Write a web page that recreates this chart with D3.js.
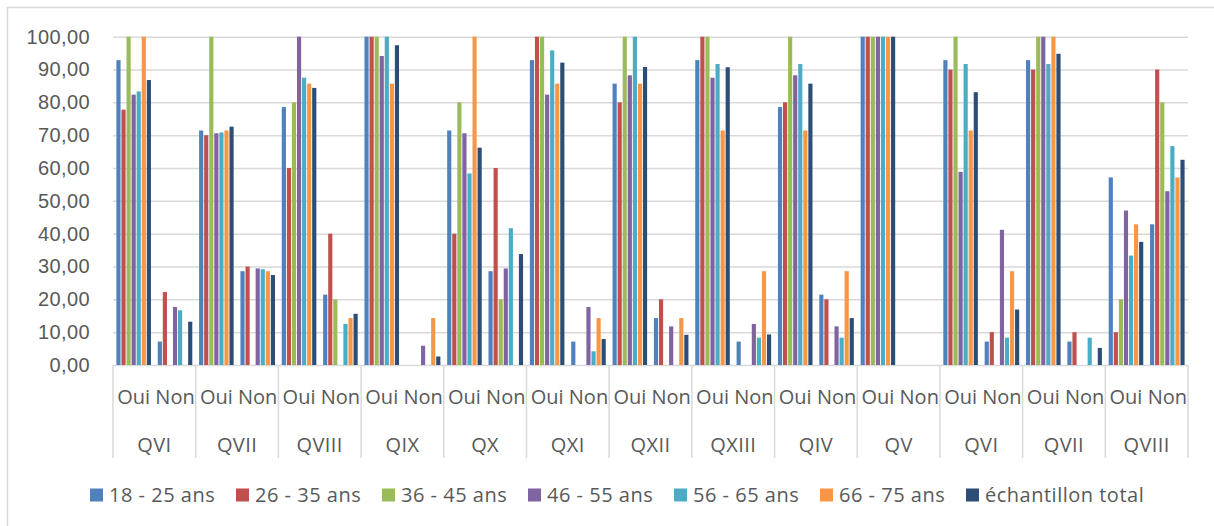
<!DOCTYPE html>
<html>
<head>
<meta charset="utf-8">
<script src="https://cdn.jsdelivr.net/npm/d3@7"></script>
<style>
	body { margin: 0; background: #fff; }
	svg { display: block; font-family: "Open Sans", sans-serif; }
</style>
</head>
<body>
<svg id="chart"></svg>
<script>
// questions (top level of the category axis), each split into Oui / Non
const questions = ['QVI', 'QVII', 'QVIII', 'QIX', 'QX', 'QXI', 'QXII', 'QXIII', 'QIV', 'QV', 'QVI', 'QVII', 'QVIII']
const answers = ['Oui', 'Non']
const seriesNames = ['18 - 25 ans', '26 - 35 ans', '36 - 45 ans', '46 - 55 ans', '56 - 65 ans', '66 - 75 ans', 'échantillon total']
const colors = ['#4F81BD', '#C0504D', '#9BBB59', '#8064A2', '#4BACC6', '#F79646', '#2C4D75']
const yTicks = [0, 10, 20, 30, 40, 50, 60, 70, 80, 90, 100]

// one array per series, 26 values: Oui, Non for each question in order
const s18_25 = [92.86, 7.14, 71.43, 28.57, 78.57, 21.43, 100, 0, 71.43, 28.57, 92.86, 7.14, 85.71, 14.29, 92.86, 7.14, 78.57, 21.43, 100, 0, 92.86, 7.14, 92.86, 7.14, 57.14, 42.86]
const s26_35 = [77.78, 22.22, 70, 30, 60, 40, 100, 0, 40, 60, 100, 0, 80, 20, 100, 0, 80, 20, 100, 0, 90, 10, 90, 10, 10, 90]
const s36_45 = [100, 0, 100, 0, 80, 20, 100, 0, 80, 20, 100, 0, 100, 0, 100, 0, 100, 0, 100, 0, 100, 0, 100, 0, 20, 80]
const s46_55 = [82.35, 17.65, 70.59, 29.41, 100, 0, 94.12, 5.88, 70.59, 29.41, 82.35, 17.65, 88.24, 11.76, 87.5, 12.5, 88.24, 11.76, 100, 0, 58.82, 41.18, 100, 0, 47.06, 52.94]
const s56_65 = [83.33, 16.67, 70.83, 29.17, 87.5, 12.5, 100, 0, 58.33, 41.67, 95.83, 4.17, 100, 0, 91.67, 8.33, 91.67, 8.33, 100, 0, 91.67, 8.33, 91.67, 8.33, 33.33, 66.67]
const s66_75 = [100, 0, 71.43, 28.57, 85.71, 14.29, 85.71, 14.29, 100, 0, 85.71, 14.29, 85.71, 14.29, 71.43, 28.57, 71.43, 28.57, 100, 0, 71.43, 28.57, 100, 0, 42.86, 57.14]
const sTotal = [86.8, 13.2, 72.6, 27.4, 84.4, 15.6, 97.4, 2.6, 66.2, 33.8, 92.1, 7.9, 90.8, 9.2, 90.7, 9.3, 85.7, 14.3, 100, 0, 83.1, 16.9, 94.8, 5.2, 37.5, 62.5]

const seriesValues = [s18_25, s26_35, s36_45, s46_55, s56_65, s66_75, sTotal]

const width = 1214
const height = 526
const plot = { left: 113, right: 1188, top: 36.7, bottom: 365 }
const textColor = '#595959'
const lineColor = '#d9d9d9'

const svg = d3.select('#chart')
	.attr('width', width)
	.attr('height', height)

// outer chart border
svg.append('rect')
	.attr('x', 7.5).attr('y', 7.5)
	.attr('width', width).attr('height', height)
	.attr('fill', 'none')
	.attr('stroke', lineColor)
	.attr('stroke-width', 1.5)

// ------- SCALES ------- //

const catKeys = []
questions.forEach((q, qi) => answers.forEach(a => catKeys.push(qi + '|' + a)))

const x = d3.scaleBand()
	.domain(catKeys)
	.range([plot.left, plot.right])

const xGroup = d3.scaleBand()
	.domain(questions.map((q, i) => i))
	.range([plot.left, plot.right])

const xSeries = d3.scaleBand()
	.domain(seriesNames)
	.range([3.4, x.bandwidth() - 3.4])
	.paddingInner(0.18)

const y = d3.scaleLinear()
	.domain([0, 100])
	.range([plot.bottom, plot.top])

// ------- GRID + Y AXIS ------- //

const yAxis = svg.append('g')
	.attr('transform', `translate(${plot.left},0)`)
	.call(d3.axisLeft(y)
		.tickValues(yTicks)
		.tickSize(-(plot.right - plot.left))
		.tickPadding(23)
		.tickFormat(d => d3.format('.2f')(d).replace('.', ',')))

yAxis.select('.domain').remove()
yAxis.selectAll('line')
	.attr('stroke', lineColor)
	.attr('stroke-width', 1.5)
yAxis.selectAll('text')
	.attr('fill', textColor)
	.style('font-size', '20px')
	.style('letter-spacing', '0.4px')

// ------- BARS ------- //

const bars = svg.append('g')
seriesValues.forEach((vals, si) => {
	bars.append('g')
		.attr('fill', colors[si])
		.selectAll('rect')
		.data(vals)
		.enter().append('rect')
			.attr('x', (d, i) => x(catKeys[i]) + xSeries(seriesNames[si]))
			.attr('width', xSeries.bandwidth())
			.attr('y', d => y(d))
			.attr('height', d => y(0) - y(d))
})

// ------- CATEGORY AXIS ------- //

const catAxis = svg.append('g')

catAxis.selectAll('line.sep')
	.data(d3.range(questions.length + 1))
	.enter().append('line')
		.attr('class', 'sep')
		.attr('x1', i => i < questions.length ? xGroup(i) : plot.right)
		.attr('x2', i => i < questions.length ? xGroup(i) : plot.right)
		.attr('y1', plot.bottom)
		.attr('y2', 458)
		.attr('stroke', lineColor)
		.attr('stroke-width', 1.5)

catAxis.selectAll('text.answer')
	.data(catKeys)
	.enter().append('text')
		.attr('class', 'answer')
		.attr('x', d => x(d) + x.bandwidth() / 2)
		.attr('y', 404)
		.attr('text-anchor', 'middle')
		.attr('fill', textColor)
		.style('font-size', '20px')
		.text(d => d.split('|')[1])

catAxis.selectAll('text.question')
	.data(questions)
	.enter().append('text')
		.attr('class', 'question')
		.attr('x', (d, i) => xGroup(i) + xGroup.bandwidth() / 2)
		.attr('y', 452)
		.attr('text-anchor', 'middle')
		.attr('fill', textColor)
		.style('font-size', '20px')
		.style('letter-spacing', '0.4px')
		.text(d => d)

// ------- LEGEND ------- //

const legend = svg.append('g')
	.selectAll('g')
	.data(seriesNames)
	.enter().append('g')
		.attr('transform', (d, i) => `translate(${90 + i * 146},495)`)

legend.append('rect')
	.attr('x', 0).attr('y', -6.5)
	.attr('width', 13).attr('height', 13)
	.attr('fill', (d, i) => colors[i])

legend.append('text')
	.attr('x', 19)
	.attr('dy', '0.35em')
	.attr('fill', textColor)
	.style('font-size', '20px')
	.style('letter-spacing', '0.5px')
	.text(d => d)
</script>
</body>
</html>
